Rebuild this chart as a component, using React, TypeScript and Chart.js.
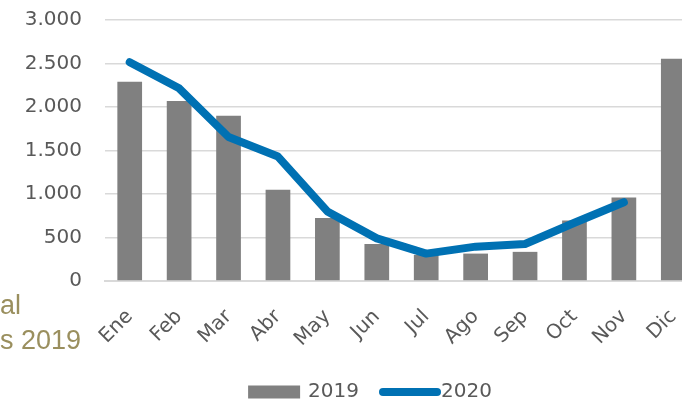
import { useEffect, useRef } from 'react';
import { Chart, registerables } from 'chart.js';

Chart.register(...registerables);

const months = ['Ene', 'Feb', 'Mar', 'Abr', 'May', 'Jun', 'Jul', 'Ago', 'Sep', 'Oct', 'Nov', 'Dic'];
const values2019 = [2290, 2070, 1900, 1050, 725, 425, 300, 315, 335, 695, 960, 2555];
const values2020 = [2515, 2215, 1655, 1430, 800, 490, 315, 395, 425, 670, 905, null];
const seriesLabels = ['2019', '2020'];
const sideTitleLines = ['al', 's 2019'];

const FONT = '"DejaVu Sans", sans-serif';
const TEXT_GRAY = '#595959';
const BAR_GRAY = '#808080';
const LINE_BLUE = '#0071B3';
const GRID = '#D9D9D9';

const formatThousands = (v: number) => String(v).replace(/\B(?=(\d{3})+(?!\d))/g, '.');

const bottomLegend = {
  id: 'bottomLegend',
  afterDraw(chart: any) {
    const ctx = chart.ctx as CanvasRenderingContext2D;
    ctx.save();
    ctx.font = `20px ${FONT}`;
    const boxW = 54;
    const gapText = 6;
    const gapItem = 22;
    const items = chart.data.datasets.map((ds: any) => ({
      label: ds.label as string,
      kind: ds.type as string,
      color: (ds.type === 'line' ? ds.borderColor : ds.backgroundColor) as string,
    }));
    const widths = items.map((it: any) => boxW + gapText + ctx.measureText(it.label).width);
    const total = widths.reduce((a: number, b: number) => a + b, 0) + gapItem * (items.length - 1);
    let x = chart.width / 2 - total / 2;
    const cy = chart.height - 8;
    items.forEach((it: any, i: number) => {
      if (it.kind === 'line') {
        ctx.strokeStyle = it.color;
        ctx.lineWidth = 8;
        ctx.lineCap = 'round';
        ctx.beginPath();
        ctx.moveTo(x + 2, cy);
        ctx.lineTo(x + boxW + 2, cy);
        ctx.stroke();
      } else {
        ctx.fillStyle = it.color;
        ctx.fillRect(x, cy - 6.5, boxW - 2, 13);
      }
      ctx.fillStyle = TEXT_GRAY;
      ctx.textBaseline = 'middle';
      ctx.textAlign = 'left';
      ctx.fillText(it.label, x + boxW + gapText, cy);
      x += widths[i] + gapItem;
    });
    ctx.restore();
  },
};

export default function App() {
  const canvasRef = useRef<HTMLCanvasElement | null>(null);

  useEffect(() => {
    if (!canvasRef.current) return;
    const chart = new Chart(canvasRef.current, {
      type: 'bar',
      data: {
        labels: months,
        datasets: [
          {
            type: 'bar',
            label: seriesLabels[0],
            data: values2019,
            backgroundColor: BAR_GRAY,
            barPercentage: 0.5,
            categoryPercentage: 1,
            order: 2,
          } as any,
          {
            type: 'line',
            label: seriesLabels[1],
            data: values2020,
            borderColor: LINE_BLUE,
            backgroundColor: LINE_BLUE,
            borderWidth: 8,
            borderCapStyle: 'round',
            borderJoinStyle: 'round',
            pointRadius: 0,
            pointHoverRadius: 0,
            tension: 0,
            fill: false,
            order: 1,
          } as any,
        ],
      },
      options: {
        responsive: false,
        animation: false,
        devicePixelRatio: 1,
        layout: { padding: { left: 0, right: 42, top: 0, bottom: 0 } },
        plugins: {
          legend: { display: false },
          tooltip: { enabled: false },
          title: { display: false },
        },
        scales: {
          x: {
            offset: true,
            grid: { display: false, drawTicks: false },
            border: { display: true, color: GRID, width: 2 },
            ticks: {
              color: TEXT_GRAY,
              font: { family: FONT, size: 20 },
              minRotation: 45,
              maxRotation: 45,
              padding: 24,
              autoSkip: false,
            },
            afterFit: (scale: any) => {
              scale.height = 119;
            },
          },
          y: {
            min: 0,
            max: 3000,
            grid: { color: GRID, lineWidth: 1.5, drawTicks: false },
            border: { display: false },
            ticks: {
              stepSize: 500,
              color: TEXT_GRAY,
              font: { family: FONT, size: 20 },
              padding: 23,
              callback: (v: any) => formatThousands(Number(v)),
            },
            afterFit: (scale: any) => {
              scale.width = 105;
              scale.paddingTop = 20;
              scale.paddingBottom = 0;
            },
          },
        },
      },
      plugins: [bottomLegend],
    });
    return () => chart.destroy();
  }, []);

  return (
    <div
      style={{
        position: 'fixed',
        left: 0,
        top: 0,
        width: 682,
        height: 400,
        overflow: 'hidden',
        background: '#fff',
      }}
    >
      <canvas
        ref={canvasRef}
        width={740}
        height={400}
        style={{ position: 'absolute', left: 0, top: 0, width: 740, height: 400 }}
      />
      <div
        style={{
          position: 'absolute',
          left: 0,
          top: 288,
          fontFamily: '"Liberation Sans", Arial, sans-serif',
          fontSize: 27,
          lineHeight: '35px',
          color: '#9A8F5E',
          whiteSpace: 'nowrap',
        }}
      >
        {sideTitleLines.map((line) => (
          <div key={line}>{line}</div>
        ))}
      </div>
    </div>
  );
}
